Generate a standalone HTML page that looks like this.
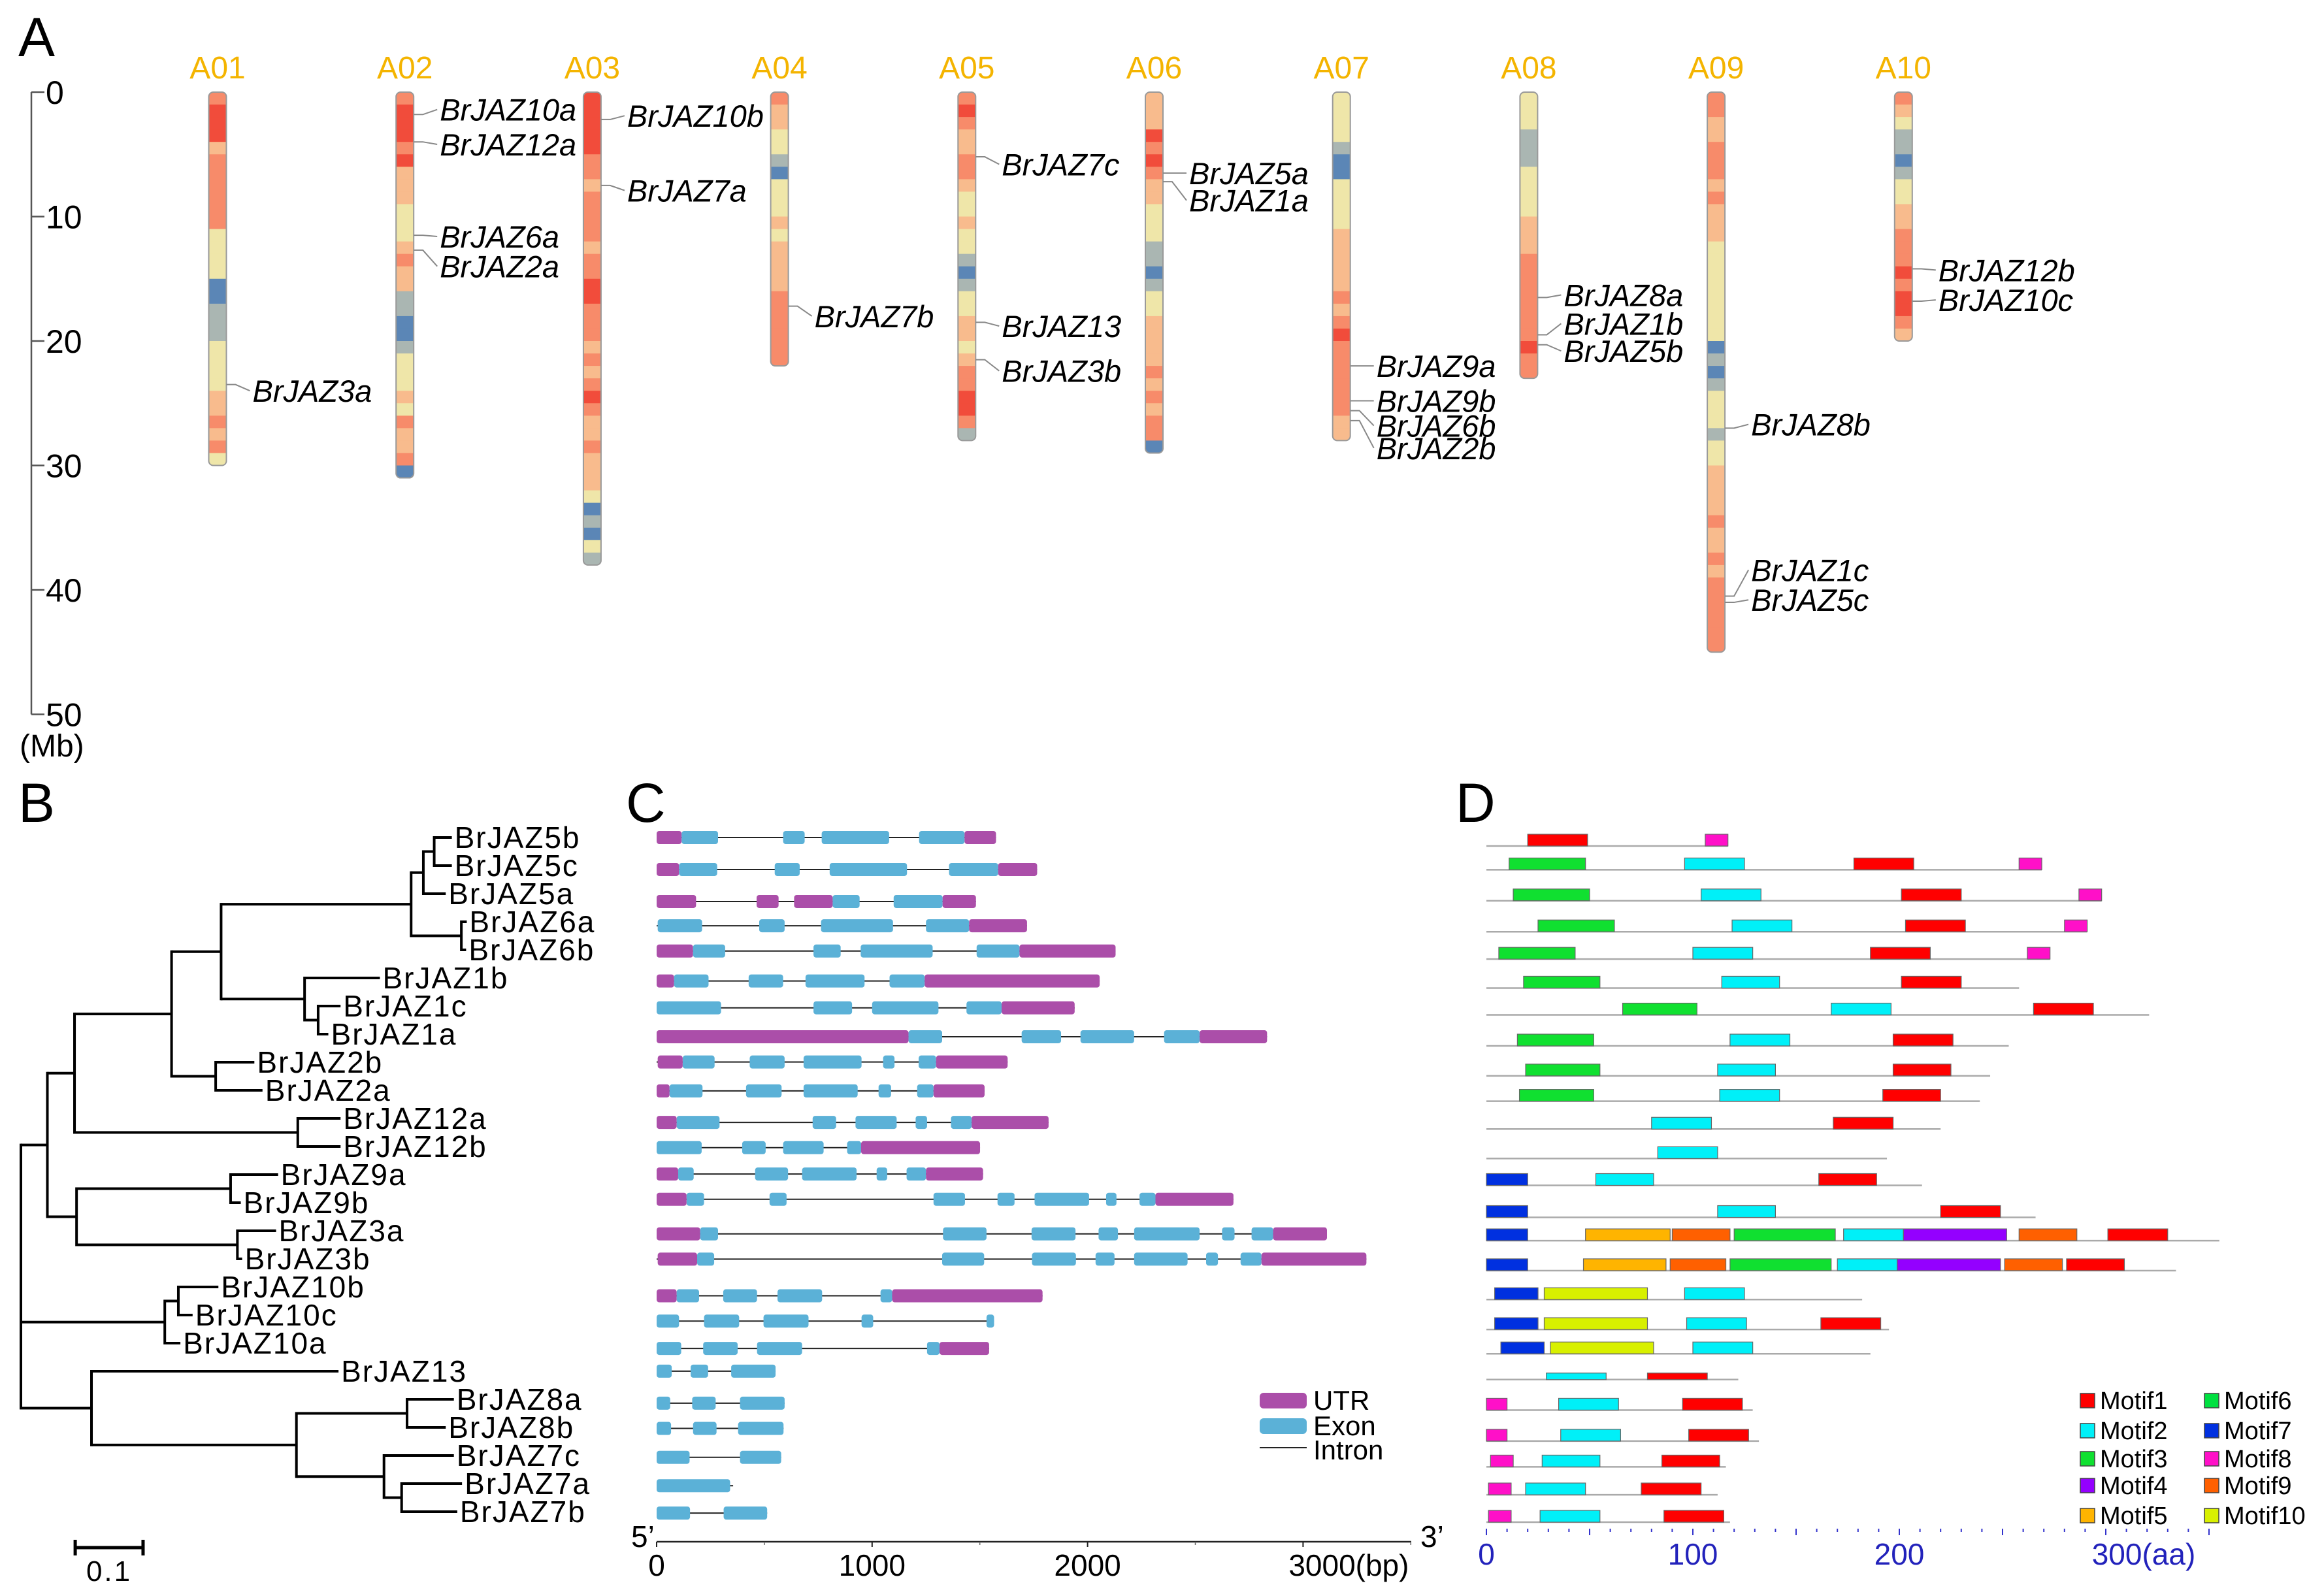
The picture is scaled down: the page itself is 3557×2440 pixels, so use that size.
<!DOCTYPE html>
<html><head><meta charset="utf-8"><style>
html,body{margin:0;padding:0;background:#fff}
svg{display:block;font-family:"Liberation Sans",Arial,sans-serif}
</style></head><body>
<svg id="fig" width="3557" height="2440" viewBox="0 0 3557 2440" xmlns="http://www.w3.org/2000/svg"></svg>
<script>
// ---------- Panel A data ----------
const chromNames=["A01","A02","A03","A04","A05","A06","A07","A08","A09","A10"];
const chromBands=[
[4,5,5,5,3,4,4,4,4,4,4,2,2,2,2,0,0,1,1,1,2,2,2,2,3,3,4,3,4,2],
[4,5,5,5,4,5,3,3,3,2,2,2,3,4,3,3,1,1,0,0,1,2,2,2,3,2,4,3,3,4,0],
[5,5,5,5,5,4,4,3,4,4,4,4,3,4,4,5,5,4,4,4,3,4,3,4,5,4,3,3,4,3,3,3,2,0,1,0,2,1],
[4,3,3,2,2,1,0,2,2,2,3,2,3,3,3,3,4,4,4,4,4,4],
[4,5,4,3,3,4,4,3,2,2,3,2,2,1,0,1,2,2,3,3,2,3,4,4,5,5,4,1],
[3,3,3,5,4,5,4,3,3,2,2,2,1,1,0,1,2,2,3,3,3,3,4,3,4,3,4,4,0],
[2,2,2,2,1,0,0,2,2,2,2,3,3,3,3,3,4,3,4,5,4,4,4,4,4,4,3,3],
[2,2,2,1,1,1,2,2,2,2,3,3,3,4,4,4,4,4,4,4,5,4,4],
[4,4,3,3,4,4,4,3,4,3,3,3,2,2,2,2,2,2,2,2,0,1,0,1,2,2,2,1,2,2,3,3,3,3,4,3,3,4,3,4,4,4,4,4,4],
[4,3,2,1,1,0,1,2,2,3,3,4,4,4,5,4,5,5,4,3]
];
const geneNames=["BrJAZ3a","BrJAZ10a","BrJAZ12a","BrJAZ6a","BrJAZ2a","BrJAZ10b","BrJAZ7a","BrJAZ7b","BrJAZ7c","BrJAZ13","BrJAZ3b","BrJAZ5a","BrJAZ1a","BrJAZ9a","BrJAZ9b","BrJAZ6b","BrJAZ2b","BrJAZ8a","BrJAZ1b","BrJAZ5b","BrJAZ8b","BrJAZ1c","BrJAZ5c","BrJAZ12b","BrJAZ10c"];
const geneChrom=[0,1,1,1,1,2,2,3,4,4,4,5,5,6,6,6,6,7,7,7,8,8,8,9,9];
const genePosMb=[23.5,1.8,4.0,11.5,12.7,2.2,7.5,17.2,5.2,18.5,21.5,6.5,7.2,22,24.8,25.6,26.4,16.5,19.5,20.3,27,40.5,41,14.2,16.8];
const geneLabelMb=[24.0,1.4,4.2,11.6,14.0,1.9,7.9,18.0,5.8,18.8,22.4,6.5,8.7,22.0,24.8,26.8,28.6,16.3,18.6,20.8,26.7,38.4,40.8,14.3,16.7];
const axisMbTicks=[0,10,20,30,40,50];

// ---------- Panel B data ----------
const treeLeaves=["BrJAZ5b","BrJAZ5c","BrJAZ5a","BrJAZ6a","BrJAZ6b","BrJAZ1b","BrJAZ1c","BrJAZ1a","BrJAZ2b","BrJAZ2a","BrJAZ12a","BrJAZ12b","BrJAZ9a","BrJAZ9b","BrJAZ3a","BrJAZ3b","BrJAZ10b","BrJAZ10c","BrJAZ10a","BrJAZ13","BrJAZ8a","BrJAZ8b","BrJAZ7c","BrJAZ7a","BrJAZ7b"];
const treeTopo={d:0,c:[
 {d:.039,c:[
  {d:.079,c:[
   {d:.222,c:[
    {d:.295,c:[
     {d:.575,c:[{d:.593,c:[{d:.609,c:[{l:0,d:.635},{l:1,d:.635}]},{l:2,d:.626}]},{d:.649,c:[{l:3,d:.657},{l:4,d:.656}]}]},
     {d:.418,c:[{l:5,d:.529},{d:.438,c:[{l:6,d:.471},{l:7,d:.453}]}]}
    ]},
    {d:.287,c:[{l:8,d:.344},{l:9,d:.356}]}
   ]},
   {d:.408,c:[{l:10,d:.471},{l:11,d:.471}]}
  ]},
  {d:.082,c:[{d:.309,c:[{l:12,d:.379},{l:13,d:.324}]},{d:.319,c:[{l:14,d:.376},{l:15,d:.326}]}]}
 ]},
 {d:.212,c:[{d:.232,c:[{l:16,d:.291},{l:17,d:.253}]},{l:18,d:.235}]},
 {d:.104,c:[{l:19,d:.468},{d:.406,c:[{d:.569,c:[{l:20,d:.638},{l:21,d:.626}]},{d:.535,c:[{l:22,d:.638},{d:.561,c:[{l:23,d:.650},{l:24,d:.643}]}]}]}]}
]};

// ---------- Panel C data (bp; type U=UTR E=exon) ----------
const geneStructs=[
[[0,116,"U"],[116,285,"E"],[587,687,"E"],[766,1079,"E"],[1218,1429,"E"],[1429,1575,"U"]],
[[0,104,"U"],[104,281,"E"],[548,664,"E"],[803,1162,"E"],[1357,1585,"E"],[1585,1766,"U"]],
[[0,183,"U"],[464,566,"U"],[638,817,"U"],[817,942,"E"],[1100,1327,"E"],[1327,1482,"U"]],
[[5,211,"E"],[476,594,"E"],[763,1097,"E"],[1250,1450,"E"],[1450,1719,"U"]],
[[0,169,"U"],[169,318,"E"],[728,854,"E"],[947,1281,"E"],[1485,1684,"E"],[1684,2130,"U"]],
[[0,81,"U"],[81,241,"E"],[427,587,"E"],[691,965,"E"],[1081,1244,"E"],[1244,2056,"U"]],
[[0,299,"E"],[728,907,"E"],[1000,1308,"E"],[1438,1601,"E"],[1601,1940,"U"]],
[[0,1169,"U"],[1169,1325,"E"],[1694,1877,"E"],[1967,2216,"E"],[2355,2520,"E"],[2520,2833,"U"]],
[[5,121,"U"],[121,269,"E"],[432,594,"E"],[682,951,"E"],[1051,1104,"E"],[1216,1297,"E"],[1297,1629,"U"]],
[[0,60,"U"],[60,213,"E"],[415,580,"E"],[682,933,"E"],[1030,1088,"E"],[1209,1285,"E"],[1285,1522,"U"]],
[[0,93,"U"],[93,292,"E"],[724,833,"E"],[923,1114,"E"],[1202,1255,"E"],[1366,1462,"E"],[1462,1819,"U"]],
[[0,209,"E"],[397,506,"E"],[587,775,"E"],[884,949,"E"],[949,1501,"U"]],
[[0,100,"U"],[100,172,"E"],[457,610,"E"],[675,928,"E"],[1021,1070,"E"],[1160,1250,"E"],[1250,1515,"U"]],
[[0,139,"U"],[139,220,"E"],[524,603,"E"],[1285,1431,"E"],[1582,1661,"E"],[1754,2007,"E"],[2086,2134,"E"],[2241,2315,"E"],[2315,2677,"U"]],
[[0,202,"U"],[202,285,"E"],[1329,1531,"E"],[1740,1944,"E"],[2051,2141,"E"],[2216,2520,"E"],[2624,2682,"E"],[2761,2861,"E"],[2861,3111,"U"]],
[[5,188,"U"],[188,267,"E"],[1325,1520,"E"],[1742,1946,"E"],[2037,2125,"E"],[2216,2464,"E"],[2550,2605,"E"],[2710,2807,"E"],[2807,3294,"U"]],
[[0,93,"U"],[93,197,"E"],[309,466,"E"],[561,768,"E"],[1039,1093,"E"],[1093,1791,"U"]],
[[0,104,"E"],[220,383,"E"],[496,705,"E"],[951,1005,"E"],[1531,1566,"E"]],
[[0,114,"E"],[216,376,"E"],[466,675,"E"],[1255,1313,"E"],[1313,1543,"U"]],
[[0,70,"E"],[158,239,"E"],[346,552,"E"]],
[[0,63,"E"],[165,274,"E"],[387,594,"E"]],
[[0,67,"E"],[169,278,"E"],[378,589,"E"]],
[[0,153,"E"],[387,578,"E"]],
[[0,341,"E"]],
[[0,155,"E"],[311,513,"E"]]
];
const geneLens=[1575,1766,1482,1719,2130,2056,1940,2833,1629,1522,1819,1501,1515,2677,3111,3294,1791,1566,1543,552,594,589,578,355,513];
const rowZoomY=[102,164,226,273,322,380,432,488,537,593,654,703,754,803,870,919,990,1039,1092,1136,1198,1247,1303,1358,1411];
const bpTicks=[0,1000,2000,3000];
const bpTickLabels=["0","1000","2000","3000(bp)"];

// ---------- Panel D data (aa) ----------
const protLens=[117,269,298,291,273,258,321,253,244,239,220,194,211,266,355,334,182,195,186,122,129,132,116,112,118];
const protMotifs=[
[[20,49,1],[106,117,8]],
[[11,48,3],[96,125,2],[178,207,1],[258,269,8]],
[[13,50,3],[104,133,2],[201,230,1],[287,298,8]],
[[25,62,3],[119,148,2],[203,232,1],[280,291,8]],
[[6,43,3],[100,129,2],[186,215,1],[262,273,8]],
[[18,55,3],[114,142,2],[201,230,1]],
[[66,102,3],[167,196,2],[265,294,1]],
[[15,52,3],[118,147,2],[197,226,1]],
[[19,55,3],[112,140,2],[197,225,1]],
[[16,52,3],[113,142,2],[192,220,1]],
[[80,109,2],[168,197,1]],
[[83,112,2]],
[[0,20,7],[53,81,2],[161,189,1]],
[[0,20,7],[112,140,2],[220,249,1]],
[[0,20,7],[48,89,5],[90,118,9],[120,169,3],[173,202,2],[202,252,4],[258,286,9],[301,330,1]],
[[0,20,7],[47,87,5],[89,116,9],[118,167,3],[170,199,2],[199,249,4],[251,279,9],[281,309,1]],
[[4,25,7],[28,78,10],[96,125,2]],
[[4,25,7],[28,78,10],[97,126,2],[162,191,1]],
[[7,28,7],[31,81,10],[100,129,2]],
[[29,58,2],[78,107,1]],
[[0,10,8],[35,64,2],[95,124,1]],
[[0,10,8],[36,65,2],[98,127,1]],
[[2,13,8],[27,55,2],[85,113,1]],
[[1,12,8],[19,48,2],[75,104,1]],
[[1,12,8],[26,55,2],[86,115,1]]
];
const protZoomY=[118,164,224,284,337,393,445,505,563,612,666,723,775,837,882,940,996,1054,1101,1151,1210,1270,1320,1374,1427];
const aaTicks=[0,100,200,300];
const aaTickLabels=["0","100","200","300(aa)"];
const motifNames=["Motif1","Motif2","Motif3","Motif4","Motif5","Motif6","Motif7","Motif8","Motif9","Motif10"];
const motifColors=["#ff0000","#00f0f8","#10e030","#9400ff","#ffb400","#00e040","#0030e0","#ff10c8","#ff6000","#d8f000"];

// ---------- helpers ----------
const NS="http://www.w3.org/2000/svg";
const svg=document.getElementById("fig");
function mk(tag,attrs,parent,text){const e=document.createElementNS(NS,tag);for(const k in attrs)e.setAttribute(k,attrs[k]);if(text!==undefined)e.textContent=text;(parent||svg).appendChild(e);return e;}
function grp(name){const g=mk("g",{});return g;}

// panel letters
const letters=[["A",28,86],["B",28,1258],["C",958,1258],["D",2228,1258]];
for(const [t,x,y] of letters){const e=mk("text",{x:x,y:y,"font-size":84,fill:"#000"},svg,t);

}

// ---------- Panel A ----------
const gA=grp("panel-a-chromosome-map");
const y0=141, pxMb=19.05;
const yMb=m=>y0+m*pxMb;
const bandCol=["#5b86b6","#aab6b2","#efe6a9","#f8bb8d","#f78b6a","#f14c3b"];
const axA=mk("line",{x1:48,y1:yMb(0),x2:48,y2:yMb(50),stroke:"#555","stroke-width":2.5},gA);


for(const t of axisMbTicks){const l=mk("line",{x1:48,y1:yMb(t),x2:68,y2:yMb(t),stroke:"#555","stroke-width":2.5},gA);


const tx=mk("text",{x:70,y:yMb(t)+18,"font-size":50,fill:"#000"},gA,String(t));

}
const mbT=mk("text",{x:30,y:1158,"font-size":48,fill:"#000"},gA,"(Mb)");


const chrX=i=>333+286.7*i, chrW=27;
chromBands.forEach((bands,i)=>{
  const cx=chrX(i);
  const g=mk("g",{},gA);
  
  
  const nm=mk("text",{x:cx,y:120,"font-size":48,fill:"#f4b400","text-anchor":"middle"},g,chromNames[i]);
  
  
  const clipId="clip"+i;
  const cp=mk("clipPath",{id:clipId},g);
  mk("rect",{x:cx-chrW/2,y:yMb(0),width:chrW,height:bands.length*pxMb,rx:7},cp);
  const bg=mk("g",{"clip-path":"url(#"+clipId+")"},g);
  bands.forEach((b,j)=>{const r=mk("rect",{x:cx-chrW/2,y:yMb(j),width:chrW,height:pxMb+0.6,fill:bandCol[b]},bg);
  
  });
  const ol=mk("rect",{x:cx-chrW/2,y:yMb(0),width:chrW,height:bands.length*pxMb,rx:7,fill:"none",stroke:"#999","stroke-width":2},g);
  
  
});
geneNames.forEach((n,i)=>{
  const cx=chrX(geneChrom[i])+chrW/2;
  const gy=yMb(genePosMb[i]), ly=yMb(geneLabelMb[i]);
  const lx=cx+40;
  const pl=mk("polyline",{points:`${cx},${gy} ${cx+14},${gy} ${lx-4},${ly}`,fill:"none",stroke:"#888","stroke-width":2},gA);
  
  
  const t=mk("text",{x:lx,y:ly+17,"font-size":47,"font-style":"italic",fill:"#000"},gA,n);
  
  
});

// ---------- Panel B ----------
const gB=grp("panel-b-phylogenetic-tree");
const bx=d=>32+d*1038.7, leafY=i=>1282+i*43;
function drawNode(n){
  if(n.l!==undefined){return leafY(n.l);}
  const ys=n.c.map(c=>drawNode(c));
  n.c.forEach((c,k)=>{const h=mk("line",{x1:bx(n.d),y1:ys[k],x2:bx(c.d),y2:ys[k],stroke:"#000","stroke-width":4},gB);
  
  });
  const v=mk("line",{x1:bx(n.d),y1:Math.min(...ys)-2,x2:bx(n.d),y2:Math.max(...ys)+2,stroke:"#000","stroke-width":4},gB);
  
  
  return (Math.min(...ys)+Math.max(...ys))/2;
}
function leafDepths(n,out){if(n.l!==undefined)out[n.l]=n.d;else n.c.forEach(c=>leafDepths(c,out));return out;}
drawNode(treeTopo);
const ld=leafDepths(treeTopo,[]);
treeLeaves.forEach((n,i)=>{const t=mk("text",{x:bx(ld[i])+4,y:leafY(i)+16,"font-size":46,"letter-spacing":2,fill:"#000"},gB,n);

});
const sb=mk("path",{d:`M${bx(0.08)},2369 H${bx(0.18)} M${bx(0.08)},2357 V2381 M${bx(0.18)},2357 V2381`,stroke:"#000","stroke-width":5,fill:"none"},gB);


const sbt=mk("text",{x:(bx(0.08)+bx(0.18))/2,y:2420,"font-size":44,"text-anchor":"middle","letter-spacing":3},gB,"0.1");



// ---------- Panel C ----------
const gC=grp("panel-c-gene-structure");
const cx0=1005, pxBp=0.3298;
const xBp=b=>cx0+b*pxBp;
const cRowY=z=>1282+(z-102)*0.790;
const colU="#ab4ea9", colE="#5bb1d7";
geneStructs.forEach((segs,i)=>{
  const y=cRowY(rowZoomY[i]);
  const g=mk("g",{},gC);
  
  
  const ln=mk("line",{x1:xBp(0),y1:y,x2:xBp(geneLens[i]),y2:y,stroke:"#222","stroke-width":2},g);
  
  
  segs.forEach(s=>{const r=mk("rect",{x:xBp(s[0]),y:y-10,width:Math.max(2,(s[1]-s[0])*pxBp),height:20,rx:4,fill:s[2]==="U"?colU:colE},g);
  
  });
});
const axC=mk("line",{x1:xBp(0),y1:2360,x2:2160,y2:2360,stroke:"#222","stroke-width":2.5},gC);


bpTicks.forEach((t,k)=>{const l=mk("line",{x1:xBp(t),y1:2360,x2:xBp(t),y2:2368,stroke:"#222","stroke-width":2},gC);


const mi=mk("line",{x1:xBp(t+500),y1:2360,x2:xBp(t+500),y2:2365,stroke:"#666","stroke-width":1.5},gC);


const tx=mk("text",{x:xBp(t)+(k===3?70:0),y:2412,"font-size":46,"text-anchor":"middle"},gC,bpTickLabels[k]);

});
const p5=mk("text",{x:966,y:2368,"font-size":46},gC,"5’");


const p3=mk("text",{x:2174,y:2368,"font-size":46},gC,"3’");


const legC=[["UTR",colU,2144],["Exon",colE,2183],["Intron",null,2220]];
legC.forEach(([n,c,y])=>{
  let m;
  if(c){m=mk("rect",{x:1928,y:y-12,width:72,height:24,rx:6,fill:c},gC);}
  else{m=mk("line",{x1:1928,y1:y-4,x2:2000,y2:y-4,stroke:"#222","stroke-width":2},gC);}
  
  
  const t=mk("text",{x:2010,y:y+14,"font-size":42},gC,n);
  
  
});

// ---------- Panel D ----------
const gD=grp("panel-d-conserved-motifs");
const dx0=2275, pxAa=3.16;
const xAa=a=>dx0+a*pxAa;
const dRowY=z=>1295+(z-118)*0.7907;
protLens.forEach((L,i)=>{
  const y=dRowY(protZoomY[i]);
  const g=mk("g",{},gD);
  
  
  const ln=mk("line",{x1:xAa(0),y1:y,x2:xAa(L),y2:y,stroke:"#aaa","stroke-width":2.5},g);
  
  
  protMotifs[i].forEach(m=>{const h=(i===19)?10:18;
  const r=mk("rect",{x:xAa(m[0]),y:y-h,width:(m[1]-m[0])*pxAa,height:h,fill:motifColors[m[2]-1],stroke:"#666","stroke-width":1.2},g);
  
  });
});
for(let a=0;a<=350;a+=10){const l=mk("line",{x1:xAa(a),y1:2340,x2:xAa(a),y2:a%50===0?2350:2345,stroke:"#3333cc","stroke-width":2},gD);

}
aaTicks.forEach((t,k)=>{const tx=mk("text",{x:xAa(t)+(k===3?58:0),y:2395,"font-size":46,"text-anchor":"middle",fill:"#2222bb"},gD,aaTickLabels[k]);

});
const legRows=[2145,2191,2234,2275,2321];
motifNames.forEach((n,k)=>{
  const col=k<5?0:1, row=k%5;
  const bxp=col===0?3184:3374, y=legRows[row];
  const r=mk("rect",{x:bxp,y:y-12,width:22,height:22,fill:motifColors[k],stroke:"#444","stroke-width":1.5},gD);
  
  
  const t=mk("text",{x:bxp+30,y:y+12,"font-size":38},gD,n);
  
  
});
</script>
</body></html>
